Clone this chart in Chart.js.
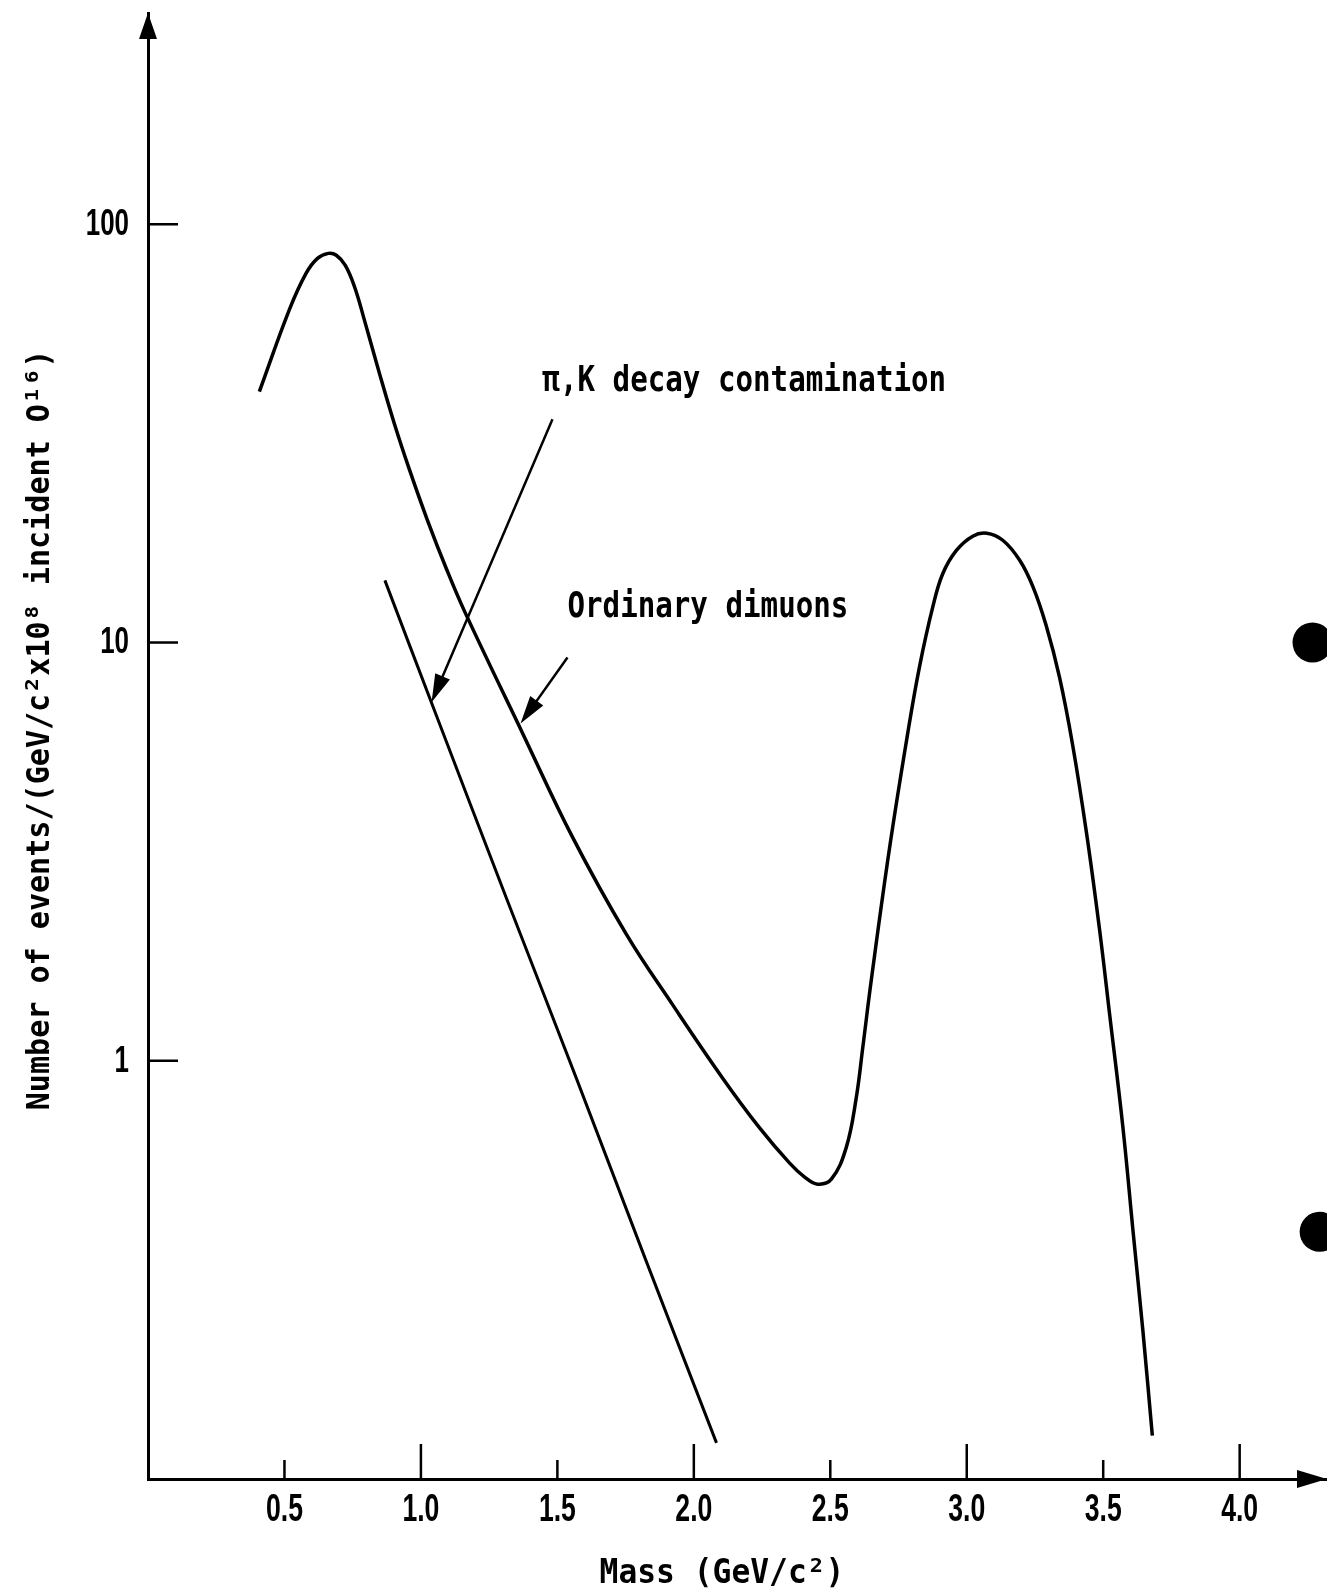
<!DOCTYPE html>
<html>
<head>
<meta charset="utf-8">
<title>Dimuon mass spectrum</title>
<script src="https://cdn.jsdelivr.net/npm/chart.js@4.4.1/dist/chart.umd.min.js"></script>
<style>
  html, body { margin: 0; padding: 0; background: #fff; }
  #wrap { position: relative; width: 1327px; height: 1591px; }
</style>
</head>
<body>
<div id="wrap"><canvas id="massChart"></canvas></div>
<script>
// Ordinary dimuon continuum plus the J/psi peak (mass in GeV/c^2, events)
const massMain = [0.408, 0.518, 0.579, 0.621, 0.661, 0.690, 0.723, 0.757, 0.793, 0.848,
  0.903, 0.958, 1.024, 1.094, 1.160, 1.372, 1.555, 1.753, 1.922, 2.105,
  2.241, 2.351, 2.406, 2.453, 2.504, 2.558, 2.595, 2.619, 2.650, 2.717,
  2.784, 2.827, 2.876, 2.912, 2.962, 3.022, 3.073, 3.132, 3.194, 3.242,
  3.291, 3.340, 3.388, 3.439, 3.487, 3.523, 3.572, 3.609, 3.646, 3.680];
const countsMain = [39.8, 62.5, 76.3, 82.9, 85.2, 84.3, 79.7, 70.8, 59.0, 44.0,
  33.3, 25.9, 19.6, 14.97, 11.87, 6.08, 3.43, 2.005, 1.362, 0.910,
  0.691, 0.569, 0.527, 0.507, 0.521, 0.619, 0.815, 1.075, 1.555, 3.22,
  6.08, 8.76, 12.2, 14.6, 16.6, 17.96, 18.25, 17.56, 15.73, 13.62,
  10.98, 8.25, 5.69, 3.50, 2.05, 1.30, 0.695, 0.393, 0.224, 0.127];

// pi,K decay contamination
const massPiK = [0.868, 1.057, 1.312, 1.569, 1.823, 2.083];
const countsPiK = [14.08, 6.68, 2.46, 0.910, 0.335, 0.122];

// axis ticks
const massTicks = [0.5, 1.0, 1.5, 2.0, 2.5, 3.0, 3.5, 4.0];
const countTicks = [1, 10, 100];

// the two punched holes at the right edge of the sheet
const holeMass = [4.267, 4.293];
const holeCounts = [10.0, 0.39];

// labels with their pointer arrows, in data units [mass, events]
const notes = [
  { text: 'π,K decay contamination', at: [1.445, 40], from: [1.482, 34.2], to: [1.039, 7.2] },
  { text: 'Ordinary dimuons', at: [1.537, 11.5], from: [1.537, 9.21], to: [1.365, 6.4] }
];

const toPoints = (xs, ys) => xs.map((x, i) => ({ x, y: ys[i] }));

const INK = '#000';
const MONO = "'DejaVu Sans Mono', monospace";
const SANS = "'Liberation Sans', Arial, sans-serif";

// plotter-style lettering: bold text squeezed horizontally
function letter(ctx, text, x, y, size, sx, opts = {}) {
  ctx.save();
  ctx.font = `bold ${size}px ${opts.family || MONO}`;
  ctx.fillStyle = INK;
  ctx.textAlign = opts.align || 'left';
  ctx.textBaseline = opts.baseline || 'alphabetic';
  ctx.translate(x, y);
  if (opts.rotate) ctx.rotate(opts.rotate);
  ctx.scale(sx, 1);
  ctx.fillText(text, 0, 0);
  ctx.restore();
}

function arrow(ctx, x1, y1, x2, y2, len, half) {
  const a = Math.atan2(y2 - y1, x2 - x1);
  const c = Math.cos(a), s = Math.sin(a);
  ctx.beginPath();
  ctx.moveTo(x1, y1);
  ctx.lineTo(x2 - c * len * 0.7, y2 - s * len * 0.7);
  ctx.stroke();
  ctx.beginPath();
  ctx.moveTo(x2, y2);
  ctx.lineTo(x2 - c * len + s * half, y2 - s * len - c * half);
  ctx.lineTo(x2 - c * len - s * half, y2 - s * len + c * half);
  ctx.closePath();
  ctx.fill();
}

// ticks, tick labels, titles, axis arrows and the pointer notes
const decorations = {
  id: 'decorations',
  afterDraw(chart) {
    const { ctx, chartArea: area, scales: { x, y } } = chart;
    ctx.save();
    ctx.strokeStyle = INK;
    ctx.fillStyle = INK;
    ctx.lineCap = 'butt';

    // inward tick marks
    ctx.lineWidth = 2.5;
    massTicks.forEach(v => {
      const px = x.getPixelForValue(v);
      const len = Number.isInteger(v) ? 35 : 19;
      ctx.beginPath();
      ctx.moveTo(px, area.bottom);
      ctx.lineTo(px, area.bottom - len);
      ctx.stroke();
      letter(ctx, v.toFixed(1), px, area.bottom + 32, 38, 0.7,
        { family: SANS, align: 'center', baseline: 'middle' });
    });
    countTicks.forEach(v => {
      const py = y.getPixelForValue(v);
      ctx.beginPath();
      ctx.moveTo(area.left, py);
      ctx.lineTo(area.left + 30, py);
      ctx.stroke();
      letter(ctx, String(v), area.left - 19, py + 1, 36, 0.72,
        { family: SANS, align: 'right', baseline: 'middle' });
    });

    // axis arrowheads
    ctx.beginPath();
    ctx.moveTo(area.left, area.top);
    ctx.lineTo(area.left - 9, area.top + 26);
    ctx.lineTo(area.left + 9, area.top + 26);
    ctx.closePath();
    ctx.fill();
    ctx.beginPath();
    ctx.moveTo(area.right, area.bottom);
    ctx.lineTo(area.right - 30, area.bottom - 9);
    ctx.lineTo(area.right - 30, area.bottom + 9);
    ctx.closePath();
    ctx.fill();

    // axis titles
    letter(ctx, 'Mass (GeV/c²)', area.left + 574, area.bottom + 104, 34, 0.92, { align: 'center' });
    letter(ctx, 'Number of events/(GeV/c²x10⁸ incident O¹⁶)', area.left - 107, 730, 32, 0.94,
      { align: 'center', baseline: 'middle', rotate: -Math.PI / 2 });

    // notes with pointer arrows
    ctx.lineWidth = 2.5;
    notes.forEach(n => {
      letter(ctx, n.text, x.getPixelForValue(n.at[0]), y.getPixelForValue(n.at[1]), 36, 0.81);
      arrow(ctx,
        x.getPixelForValue(n.from[0]), y.getPixelForValue(n.from[1]),
        x.getPixelForValue(n.to[0]), y.getPixelForValue(n.to[1]), 28, 8);
    });
    ctx.restore();
  }
};

Chart.defaults.font.family = MONO;
Chart.defaults.color = INK;

new Chart(document.getElementById('massChart'), {
  type: 'line',
  data: {
    datasets: [
      {
        label: 'Ordinary dimuons',
        data: toPoints(massMain, countsMain),
        borderColor: INK,
        borderWidth: 3.5,
        pointRadius: 0,
        tension: 0.4
      },
      {
        label: 'π,K decay contamination',
        data: toPoints(massPiK, countsPiK),
        borderColor: INK,
        borderWidth: 3,
        pointRadius: 0,
        tension: 0.4
      },
      {
        label: 'holes',
        data: toPoints(holeMass, holeCounts),
        showLine: false,
        pointRadius: 20,
        pointBorderWidth: 0,
        pointBackgroundColor: INK,
        clip: false
      }
    ]
  },
  options: {
    responsive: true,
    maintainAspectRatio: false,
    animation: false,
    layout: { autoPadding: false, padding: { top: 13, left: 0, right: 0, bottom: 0 } },
    plugins: {
      legend: { display: false },
      tooltip: { enabled: false }
    },
    scales: {
      x: {
        type: 'linear',
        min: 0,
        max: 4.32,
        grid: { display: false },
        border: { display: true, color: INK, width: 3 },
        ticks: { display: false },
        afterFit: (scale) => { scale.height = 112; }
      },
      y: {
        type: 'logarithmic',
        min: 0.1,
        max: 320,
        grid: { display: false },
        border: { display: true, color: INK, width: 3 },
        ticks: { display: false },
        afterFit: (scale) => { scale.width = 148; }
      }
    }
  },
  plugins: [decorations]
});
</script>
</body>
</html>
